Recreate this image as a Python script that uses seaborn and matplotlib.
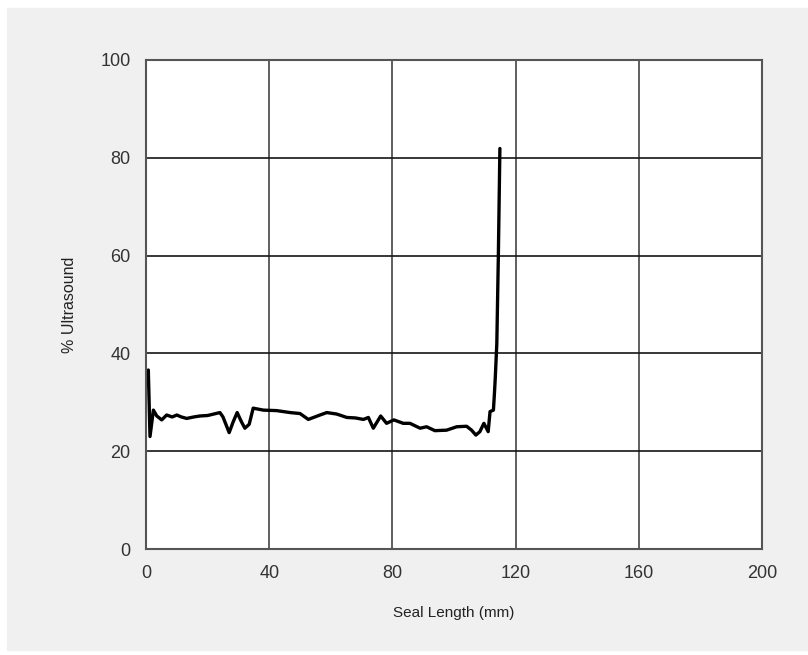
import pandas as pd
import matplotlib
matplotlib.use("Agg")
import matplotlib.pyplot as plt
import seaborn as sns

# Seal trace
seal_mm = [0.75, 1.3, 2.4, 3.5, 5.1, 6.7, 8.5, 10.0, 11.5, 13.2, 15.5, 17.5, 20.0,
           22.0, 24.0, 25.0, 27.0, 28.3, 29.6, 31.0, 32.1, 33.5, 34.8, 38.1, 42.4,
           46.8, 50.0, 52.7, 56.5, 58.7, 61.9, 65.2, 68.0, 70.6, 72.2, 73.8, 76.2,
           78.1, 80.5, 83.5, 85.7, 89.0, 91.1, 93.8, 97.6, 100.9, 104.1, 105.7,
           107.1, 108.4, 109.7, 111.1, 111.7, 112.8, 113.1, 113.4, 113.9, 114.4, 114.9]
ultrasound = [36.6, 23.0, 28.4, 27.2, 26.4, 27.4, 27.0, 27.4, 27.0, 26.7, 27.0, 27.2,
              27.3, 27.6, 27.9, 27.0, 23.8, 26.0, 27.9, 26.0, 24.7, 25.5, 28.8, 28.4,
              28.3, 27.9, 27.7, 26.5, 27.4, 27.9, 27.6, 26.9, 26.8, 26.5, 26.9, 24.7,
              27.2, 25.7, 26.4, 25.7, 25.7, 24.7, 25.0, 24.2, 24.3, 25.0, 25.1, 24.3,
              23.3, 24.0, 25.7, 24.0, 28.1, 28.4, 31.5, 35.0, 42.0, 60.0, 81.9]

x_ticks = [0, 40, 80, 120, 160, 200]
y_ticks = [0, 20, 40, 60, 80, 100]

df = pd.DataFrame({'Seal Length (mm)': seal_mm, '% Ultrasound': ultrasound})

sns.set_style('white')
plt.rcParams['font.family'] = ['Liberation Sans', 'DejaVu Sans']

fig = plt.figure(figsize=(8.08, 6.55), dpi=100, facecolor='white')
# grey panel behind the chart, thin white margin top/left like the screenshot
fig.patches.append(plt.Rectangle((7 / 808, 0.007), 1, 1 - 8 / 655 - 0.007,
                                 transform=fig.transFigure, color='#f0f0f0', zorder=-1))
ax = fig.add_axes([146 / 808, 1 - 549 / 655, 616 / 808, 489 / 655])
ax.set_facecolor('white')

sns.lineplot(x='Seal Length (mm)', y='% Ultrasound', data=df, color='black',
             linewidth=2.4, ax=ax, sort=False)

ax.set_xlim(0, 200)
ax.set_ylim(0, 100)
ax.set_xticks(x_ticks)
ax.set_yticks(y_ticks)
ax.grid(True, axis='y', color='#151515', linewidth=1.2)
ax.grid(True, axis='x', color='#444444', linewidth=1.2)
ax.set_axisbelow(True)
for s in ax.spines.values():
    s.set_color('#555555')
    s.set_linewidth(1.5)
ax.tick_params(direction='out', width=1.2, color='#333333',
               labelsize=13, labelcolor='#333333')
ax.tick_params(axis='x', length=4.5, pad=7)
ax.tick_params(axis='y', length=8, pad=3)
ax.set_xlabel('Seal Length (mm)', fontsize=11, color='#222222', labelpad=17)
ax.set_ylabel('% Ultrasound', fontsize=11.5, color='#222222', labelpad=17)

fig.savefig('out.png', dpi=100, facecolor=fig.get_facecolor())
